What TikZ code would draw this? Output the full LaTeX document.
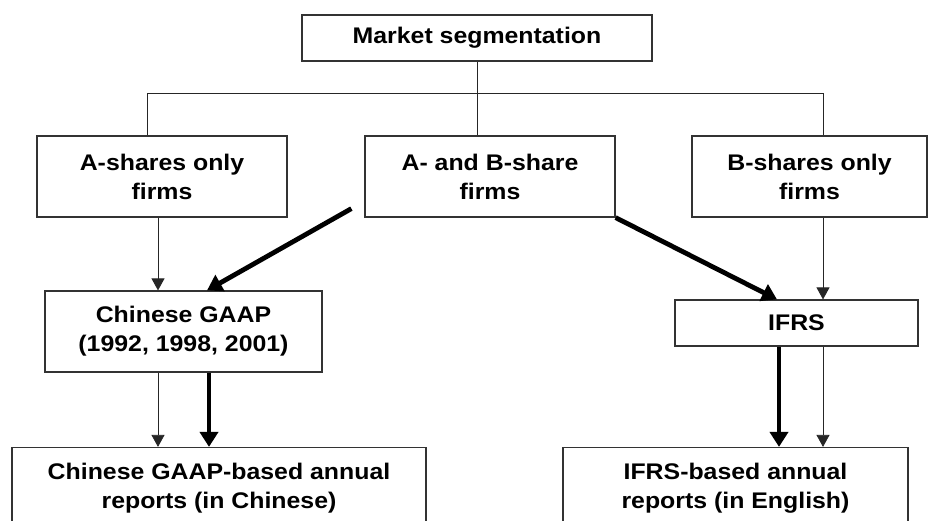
\documentclass[tikz,border=0pt]{standalone}
\usepackage{fontspec}
\setmainfont{Liberation Sans}[FakeStretch=1.1]
\usetikzlibrary{arrows.meta,positioning}
\tikzset{
  caja/.style={
    draw=black!80,
    line width=1.2pt,
    fill=white,
    align=center,
    inner sep=0pt,
    font=\fontsize{22.6}{29}\selectfont\bfseries
  },
  rama/.style={
    line width=1pt,
    black!85
  },
  fina/.style={
    -{Triangle[length=12pt,width=13pt]},
    line width=0.8pt,
    black!85
  },
  gruesa/.style={
    -{Triangle[length=15pt,width=18pt]},
    line width=4.8pt
  }
}
\begin{document}
\begin{tikzpicture}[x=1pt,y=-1pt]
\clip (0,0) rectangle (928,520);
% cajas
\node[caja,minimum width=350pt,minimum height=46pt] (seg) at (477,38) {Market segmentation};
\node[caja,minimum width=250pt,minimum height=81pt] (A) at (162,176.5) {A-shares only\\firms};
\node[caja,minimum width=250pt,minimum height=81pt] (AB) at (490,176.5) {A- and B-share\\firms};
\node[caja,minimum width=235pt,minimum height=81pt] (B) at (809.5,176.5) {B-shares only\\firms};
\node[caja,minimum width=277pt,minimum height=81pt] (cgaap) at (183.5,331.5) {Chinese GAAP\\(1992, 1998, 2001)};
\node[caja,minimum width=243pt,minimum height=46pt] (ifrs) at (796.5,323) {IFRS};
\node[caja,minimum width=414pt,minimum height=81pt] (crep) at (219,488) {Chinese GAAP-based annual\\reports (in Chinese)};
\node[caja,minimum width=345pt,minimum height=81pt] (erep) at (735.5,488) {IFRS-based annual\\reports (in English)};
% columnas
\coordinate (hl) at (147,93);
\coordinate (hr) at (823,93);
\coordinate (la) at (158,0);
\coordinate (lg) at (209,0);
\coordinate (rg) at (779,0);
% ramas
\draw[rama] (A.north -| hl) -- (hl) -- (hr) -- (B.north -| hr);
\draw[rama] (seg.south) -- (seg.south |- AB.north);
% flechas
\draw[fina] (A.south -| la) -- (cgaap.north -| la);
\draw[fina] (cgaap.south -| la) -- (crep.north -| la);
\draw[fina] (B.south -| hr) -- (ifrs.north -| hr);
\draw[fina] (ifrs.south -| hr) -- (erep.north -| hr);
\draw[gruesa] ([xshift=-13pt,yshift=9pt]AB.south west) -- ([xshift=23.5pt]cgaap.north);
\draw[gruesa] (AB.south east) -- ([xshift=-19.5pt]ifrs.north);
\draw[gruesa] (cgaap.south -| lg) -- (crep.north -| lg);
\draw[gruesa] (ifrs.south -| rg) -- (erep.north -| rg);
\end{tikzpicture}
\end{document}
